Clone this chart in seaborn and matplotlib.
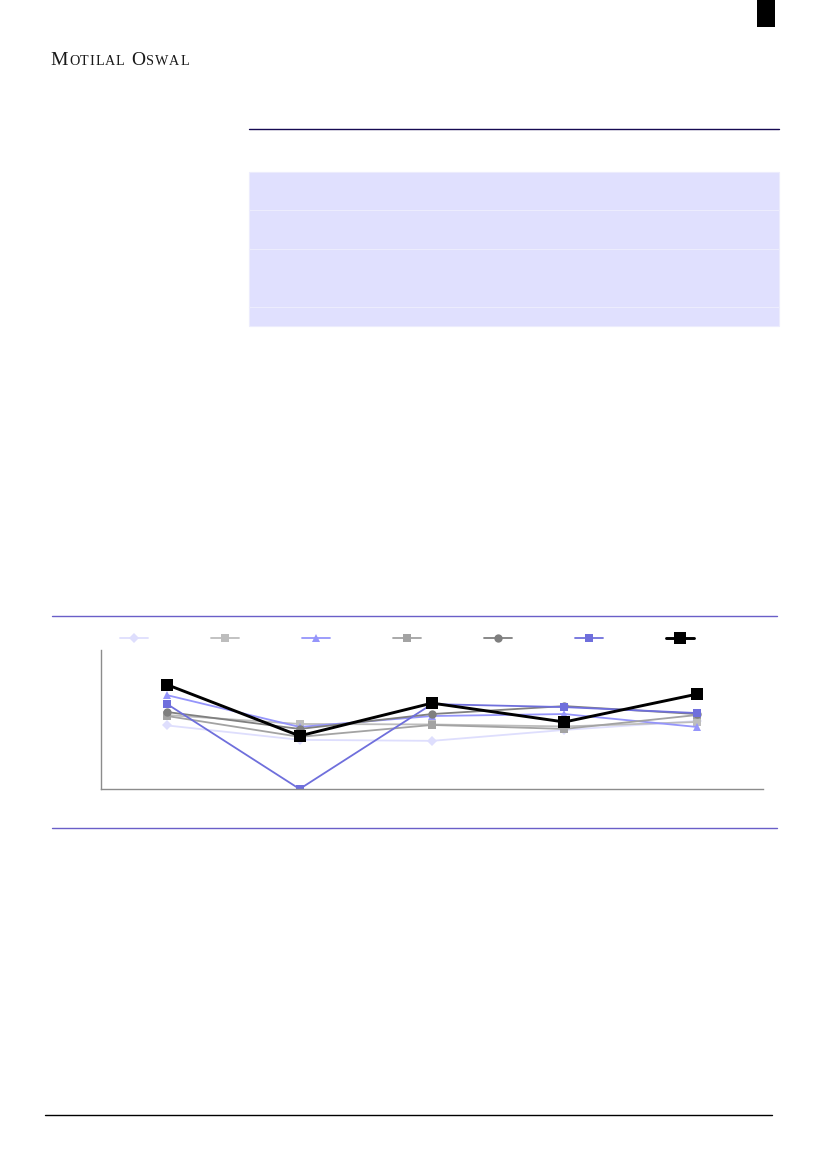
"""
Report page with a multi-series line chart (values read off the reference page)
"""

import matplotlib.pyplot as plt
import pandas as pd
import seaborn as sns
from matplotlib.lines import Line2D
from matplotlib.patches import Rectangle

# ---- data -------------------------------------------------------------
periods = ["P1", "P2", "P3", "P4", "P5"]
series_names = ["S1", "S2", "S3", "S4", "S5", "S6", "S7"]
s1 = [12.8, 9.9, 9.7, 11.9, 13.7]
s2 = [14.9, 13.1, 13.0, 12.6, 13.5]
s3 = [18.9, 12.5, 14.7, 15.1, 12.5]
s4 = [14.7, 10.5, 12.9, 12.1, 14.9]
s5 = [15.5, 12.1, 15.1, 16.7, 15.1]
s6 = [17.1, 0.0, 17.1, 16.5, 15.3]
s7 = [21.0, 10.7, 17.3, 13.5, 19.1]
all_values = [s1, s2, s3, s4, s5, s6, s7]

colors = ["#dedefd", "#bdbdbd", "#9595fb", "#a3a3a3", "#7f7f7f", "#6f6fdc", "#000000"]
markers = ["D", "s", "^", "s", "o", "s", "s"]
marker_sizes = [5, 6, 6, 6, 6, 6, 8.5]
line_widths = [1.3, 1.3, 1.3, 1.3, 1.3, 1.3, 2.1]

# table band (decorative shaded rows), pixel rows
table_rows = [172, 210, 249, 307, 326]

W, H = 827, 1169


def fx(px):
    return px / W


def fy(py):
    return 1 - py / H


df = pd.DataFrame(
    [(name, p, v) for name, vals in zip(series_names, all_values) for p, v in zip(periods, vals)],
    columns=["series", "period", "value"],
)

sns.set_style("white")
fig = plt.figure(figsize=(W / 100, H / 100), dpi=100)
renderer = fig.canvas.get_renderer()

# ---- header: small-caps logo, letter by letter ----------------------
logo_letters = [("M", 14), ("O", 10.2), ("T", 10.2), ("I", 10.2), ("L", 10.2), ("A", 10.2), ("L", 10.2),
                (" ", 10.2), ("O", 14), ("S", 10.2), ("W", 10.2), ("A", 10.2), ("L", 10.2)]
x = 50.5
for ch, size in logo_letters:
    if ch == " ":
        x += 5.5
        continue
    t = fig.text(fx(x), fy(65), ch, fontsize=size, family="Liberation Serif", color="#1a1a1a", va="baseline")
    x += t.get_window_extent(renderer).width + 0.9

fig.add_artist(Rectangle((fx(757), fy(27)), fx(18), 27 / H, color="black", lw=0))
fig.add_artist(Line2D([fx(249), fx(779)], [fy(129), fy(129)], color="#160a52", lw=1.0))

# shaded table rows
for top, bottom in zip(table_rows[:-1], table_rows[1:]):
    fig.add_artist(Rectangle((fx(249), fy(bottom)), fx(779) - fx(249), (bottom - top) / H,
                             facecolor="#e0e0fe", edgecolor="#ececfd", lw=0.8))

# ---- chart ------------------------------------------------------------
fig.add_artist(Line2D([fx(52), fx(777)], [fy(616), fy(616)], color="#6a5fc8", lw=1.0))
fig.add_artist(Line2D([fx(52), fx(777)], [fy(828), fy(828)], color="#6a5fc8", lw=1.0))

ax = fig.add_axes([fx(101), fy(789), fx(763) - fx(101), (789 - 650) / H])
for i, name in enumerate(series_names):
    sns.lineplot(
        data=df[df["series"] == name],
        x="period",
        y="value",
        ax=ax,
        color=colors[i],
        marker=markers[i],
        markersize=marker_sizes[i],
        markeredgewidth=0,
        linewidth=line_widths[i],
        label=name,
        sort=False,
    )

ax.set_xlim(-0.5, len(periods) - 0.5)
ax.set_ylim(0, 28)
ax.set_xlabel("")
ax.set_ylabel("")
ax.tick_params(length=0, labelbottom=False, labelleft=False)
sns.despine(ax=ax)
for side in ["left", "bottom"]:
    ax.spines[side].set_color("#8c8c8c")
    ax.spines[side].set_linewidth(1.0)

handles, _ = ax.get_legend_handles_labels()
ax.legend(
    handles,
    [""] * len(handles),
    ncol=len(handles),
    loc="center",
    bbox_to_anchor=(fx(407), fy(639)),
    bbox_transform=fig.transFigure,
    frameon=False,
    fontsize=8,
    handlelength=2.5,
    handletextpad=0.0,
    columnspacing=5.7,
)

# footer rule
fig.add_artist(Line2D([fx(45), fx(772)], [fy(1115), fy(1115)], color="black", lw=1.0))

fig.savefig("out.png", dpi=100)
